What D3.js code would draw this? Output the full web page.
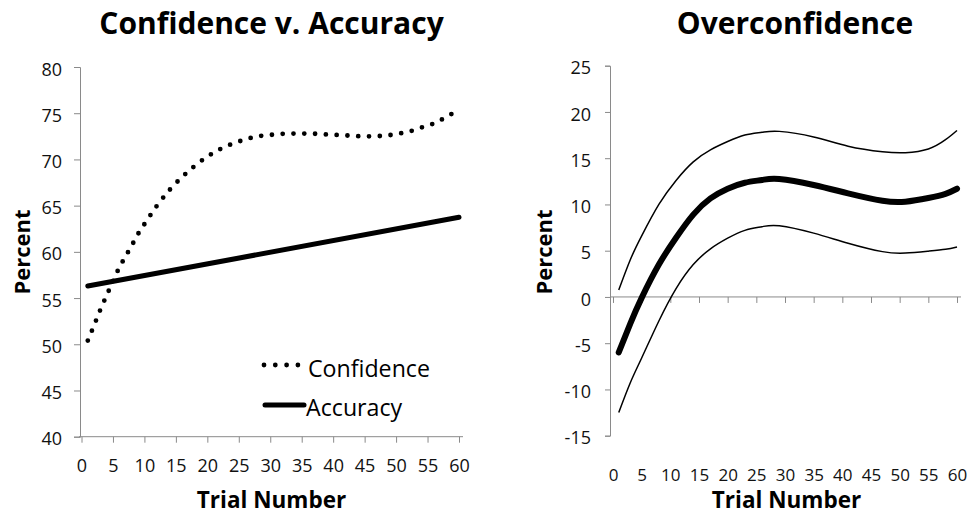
<!DOCTYPE html>
<html>
<head>
<meta charset="utf-8">
<script src="https://cdnjs.cloudflare.com/ajax/libs/d3/7.8.5/d3.min.js"></script>
<style>
  body { margin: 0; background: #fff; }
  svg { display: block; font-family: "Open Sans", sans-serif; }
  .tick text { fill: #111; }
</style>
</head>
<body>
<div class="chart"></div>
<script>
// tick labels
var trialTicks = [0, 5, 10, 15, 20, 25, 30, 35, 40, 45, 50, 55, 60];
var leftYTicks = [40, 45, 50, 55, 60, 65, 70, 75, 80];
var rightYTicks = [-15, -10, -5, 0, 5, 10, 15, 20, 25];

// Confidence v. Accuracy
var confTrials = [1, 2, 3, 4, 5, 6, 7, 8, 9, 10, 12, 14, 16, 18, 20, 22, 24, 26, 28, 30, 33, 36, 39, 42, 45, 48, 50, 52, 54, 56, 58, 60];
var confidence = [50.4, 52.05, 53.75, 55.3, 56.8, 58.3, 59.5, 60.7, 61.95, 63.0, 65.0, 66.7, 68.1, 69.3, 70.3, 71.1, 71.7, 72.15, 72.5, 72.65, 72.8, 72.8, 72.7, 72.6, 72.5, 72.55, 72.75, 73.0, 73.45, 73.9, 74.6, 75.4];
var accTrials = [1, 60];
var accuracy = [56.3, 63.75];

// Overconfidence with its upper / lower band
var overTrials = [1, 3, 5, 8, 11, 14, 17, 20, 23, 26, 29, 35, 41, 47, 51, 55, 58, 60];
var overconfidence = [-6.0, -2.9, -0.1, 3.5, 6.4, 8.9, 10.65, 11.7, 12.35, 12.65, 12.75, 12.1, 11.2, 10.4, 10.3, 10.7, 11.15, 11.7];
var overUpper = [0.75, 4.0, 6.6, 10.0, 12.6, 14.6, 15.9, 16.8, 17.5, 17.8, 17.9, 17.3, 16.3, 15.7, 15.6, 16.0, 17.0, 18.0];
var overLower = [-12.5, -9.3, -6.6, -2.6, 0.9, 3.5, 5.2, 6.35, 7.2, 7.6, 7.7, 6.9, 5.8, 4.9, 4.75, 4.95, 5.15, 5.4];

var w = 970, h = 514;
var axisColor = "#8a8a8a";
var plain = function(d) { return String(d); }; // hyphen minus, like the original

var svg = d3.select(".chart").append("svg")
    .attr("width", w)
    .attr("height", h);

function zip(xs, ys) {
    return xs.map(function(x, i) { return [x, ys[i]]; });
}

// ---------- left panel ----------
var xL = d3.scaleLinear().domain([0, 60]).range([81.5, 459]);
var yL = d3.scaleLinear().domain([40, 80]).range([436.7, 67]);

svg.append("text")
    .attr("x", 271.5).attr("y", 33.5)
    .attr("text-anchor", "middle")
    .attr("font-size", 30).attr("font-weight", 700)
    .text("Confidence v. Accuracy");

var gyL = svg.append("g")
    .attr("transform", "translate(80,0)")
    .call(d3.axisLeft(yL).tickValues(leftYTicks).tickFormat(plain).tickSize(6).tickPadding(12));
gyL.selectAll("text").attr("font-size", 18).attr("dy", "0.45em");

var gxL = svg.append("g")
    .attr("transform", "translate(0," + yL(40) + ")")
    .call(d3.axisBottom(xL).tickValues(trialTicks).tickFormat(plain).tickSize(6).tickPadding(17));
gxL.select(".domain").remove();
gxL.selectAll("text").attr("font-size", 18);
gxL.append("line")
    .attr("x1", 79).attr("x2", 463)
    .attr("stroke", axisColor);

[gyL, gxL].forEach(function(g) {
    g.selectAll(".domain, .tick line").attr("stroke", axisColor);
    g.selectAll("text").attr("font-family", "Open Sans").attr("fill", "#111");
});

svg.append("text")
    .attr("transform", "translate(30,252) rotate(-90)")
    .attr("text-anchor", "middle")
    .attr("font-size", 22).attr("font-weight", 700)
    .text("Percent");

svg.append("text")
    .attr("x", 271.5).attr("y", 508)
    .attr("text-anchor", "middle")
    .attr("font-size", 22.5).attr("font-weight", 700)
    .text("Trial Number");

var lineL = d3.line()
    .x(function(d) { return xL(d[0]); })
    .y(function(d) { return yL(d[1]); })
    .curve(d3.curveMonotoneX);

svg.append("path")
    .datum(zip(accTrials, accuracy))
    .attr("d", lineL)
    .attr("fill", "none")
    .attr("stroke", "#000")
    .attr("stroke-width", 5)
    .attr("stroke-linecap", "round");

svg.append("path")
    .datum(zip(confTrials, confidence))
    .attr("d", lineL)
    .attr("fill", "none")
    .attr("stroke", "#000")
    .attr("stroke-width", 4.8)
    .attr("stroke-linecap", "round")
    .attr("stroke-dasharray", "0 10.8");

// legend
svg.append("line")
    .attr("x1", 264).attr("x2", 299).attr("y1", 365).attr("y2", 365)
    .attr("stroke", "#000").attr("stroke-width", 4.8)
    .attr("stroke-linecap", "round").attr("stroke-dasharray", "0 11.3");
svg.append("text")
    .attr("x", 308).attr("y", 376.5)
    .attr("font-size", 23.2)
    .text("Confidence");
svg.append("line")
    .attr("x1", 265).attr("x2", 304).attr("y1", 405).attr("y2", 405)
    .attr("stroke", "#000").attr("stroke-width", 5)
    .attr("stroke-linecap", "round");
svg.append("text")
    .attr("x", 306).attr("y", 416)
    .attr("font-size", 23.2)
    .text("Accuracy");

// ---------- right panel ----------
var xR = d3.scaleLinear().domain([0, 60]).range([613, 957]);
var yR = d3.scaleLinear().domain([-15, 25]).range([435.7, 65.7]);

svg.append("text")
    .attr("x", 795).attr("y", 33.5)
    .attr("text-anchor", "middle")
    .attr("font-size", 30).attr("font-weight", 700)
    .text("Overconfidence");

var gyR = svg.append("g")
    .attr("transform", "translate(610,0)")
    .call(d3.axisLeft(yR).tickValues(rightYTicks).tickFormat(plain).tickSize(5).tickPadding(14));
gyR.selectAll("text").attr("font-size", 18).attr("dy", "0.45em");

// tick marks on the zero line, labels at the bottom
var gxR = svg.append("g")
    .attr("transform", "translate(0," + yR(0) + ")")
    .call(d3.axisBottom(xR).tickValues(trialTicks).tickSize(6).tickFormat(""));
gxR.select(".domain").remove();
gxR.append("line")
    .attr("x1", 610).attr("x2", 961)
    .attr("stroke", axisColor);

var gxRlab = svg.append("g")
    .attr("transform", "translate(0,469)")
    .call(d3.axisBottom(xR).tickValues(trialTicks).tickFormat(plain).tickSize(0).tickPadding(0));
gxRlab.select(".domain").remove();
gxRlab.selectAll("text").attr("font-size", 17);

[gyR, gxR, gxRlab].forEach(function(g) {
    g.selectAll(".domain, .tick line").attr("stroke", axisColor);
    g.selectAll("text").attr("font-family", "Open Sans").attr("fill", "#111");
});

svg.append("text")
    .attr("transform", "translate(552,252) rotate(-90)")
    .attr("text-anchor", "middle")
    .attr("font-size", 22).attr("font-weight", 700)
    .text("Percent");

svg.append("text")
    .attr("x", 786.5).attr("y", 508)
    .attr("text-anchor", "middle")
    .attr("font-size", 22.5).attr("font-weight", 700)
    .text("Trial Number");

var lineR = d3.line()
    .x(function(d) { return xR(d[0]); })
    .y(function(d) { return yR(d[1]); })
    .curve(d3.curveNatural);

[overUpper, overLower].forEach(function(vals) {
    svg.append("path")
        .datum(zip(overTrials, vals))
        .attr("d", lineR)
        .attr("fill", "none")
        .attr("stroke", "#000")
        .attr("stroke-width", 1.5);
});

svg.append("path")
    .datum(zip(overTrials, overconfidence))
    .attr("d", lineR)
    .attr("fill", "none")
    .attr("stroke", "#000")
    .attr("stroke-width", 6)
    .attr("stroke-linecap", "round");
</script>
</body>
</html>
